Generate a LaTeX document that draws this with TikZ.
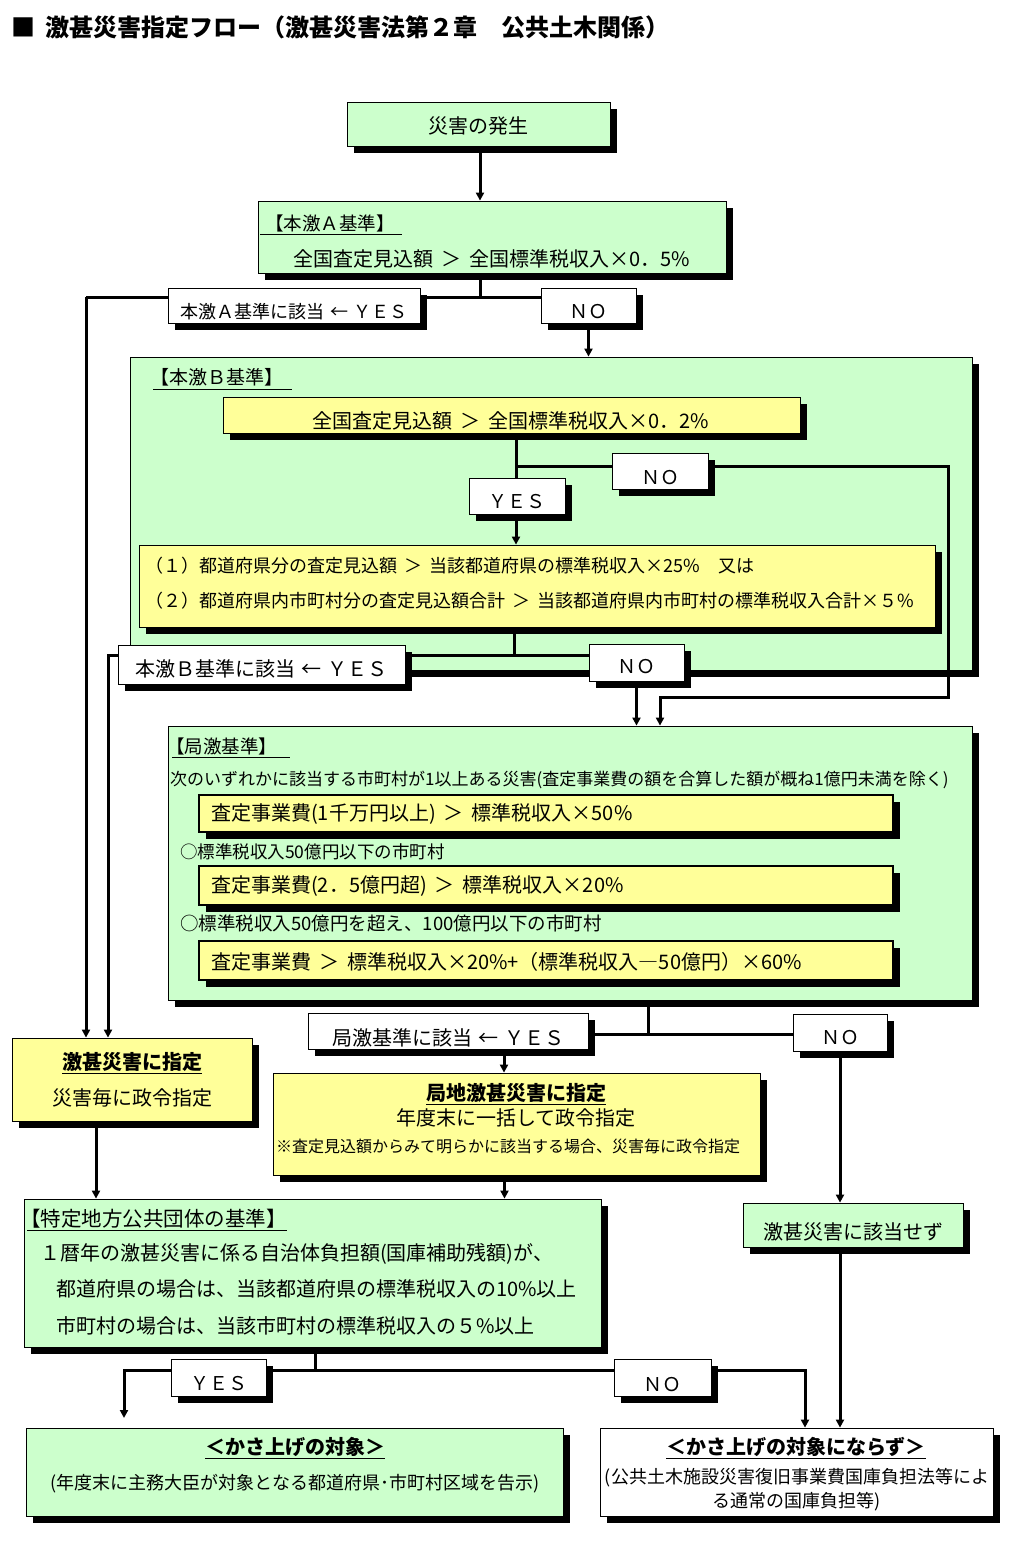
\documentclass[tikz,border=0pt]{standalone}
\usepackage{fontspec}
\setmainfont{Noto Sans CJK JP}
\usetikzlibrary{shadows,arrows.meta,fit}
\pgfdeclarelayer{bg}
\pgfdeclarelayer{ln}
\pgfsetlayers{bg,ln,main}
\definecolor{gfill}{HTML}{CCFFCC}
\definecolor{yfill}{HTML}{FFFF99}
\newcommand\fz[1]{\fontsize{#1pt}{#1pt}\selectfont}
\newcommand\gtt{\hspace{0.4em}＞\hspace{0.4em}}
\newcommand\yesarrow{\hspace{0.3em}←\hspace{0.3em}}
\tikzset{
  box/.style={draw=black, line width=0.8pt, inner sep=0pt,
     drop shadow={shadow xshift=7pt, shadow yshift=-7pt, opacity=1, fill=black}},
  gbox/.style={box, fill=gfill},
  ybox/.style={box, fill=yfill},
  wbox/.style={box, fill=white},
  txt/.style={inner sep=0pt, anchor=west},
  ctxt/.style={inner sep=0pt},
  conn/.style={line width=3pt, line join=miter},
  arr/.style={line width=3pt, line join=miter, -{Triangle[length=8pt,width=8pt]}},
  uline/.style={line width=0.8pt},
}
\begin{document}
\begin{tikzpicture}[x=1pt,y=-1pt]
\useasboundingbox (0,0) rectangle (1019,1546);
\node[txt, font=\bfseries\fz{24}] (title) at (11,27) {■\hspace{10pt}激甚災害指定フロー（激甚災害法第２章　公共土木関係）};

% container boxes
\begin{pgfonlayer}{bg}
\node[gbox, fit={(130,357) (972,670)}] (bB) {};
\node[gbox, fit={(168,726) (972,1000)}] (bC) {};
\end{pgfonlayer}

% top
\node[gbox, fit={(347,102) (610,146)}] (start) {};
\node[ctxt, font=\fz{20}] (startT) at ([yshift=-2pt]start.center) {災害の発生};
\node[gbox, fit={(258,201) (726,273)}] (bA) {};
\node[txt, font=\fz{18.5}] (labA) at (265,223) {【本激Ａ基準】};
\draw[uline] (260,234.5) -- (402,234.5);
\node[ctxt, font=\fz{20}] (txtA) at (492,259) {全国査定見込額\gtt 全国標準税収入×0．5\%};
\node[wbox, fit={(168,288) (420,323)}] (yesA) {};
\node[ctxt, font=\fz{18}] (yesAT) at ([yshift=-6pt]yesA.center) {本激Ａ基準に該当\yesarrow ＹＥＳ};
\node[wbox, fit={(541,288) (636,323)}] (noA) {};
\node[ctxt, font=\fz{19}] (noAT) at ([yshift=-6pt]noA.center) {ＮＯ};

% B
\node[txt, font=\fz{19}] (labB) at (150,377) {【本激Ｂ基準】};
\draw[uline] (153,389) -- (292,389);
\node[ybox, fit={(223,397) (800,433)}] (B1) {};
\node[ctxt, font=\fz{20}] (B1T) at (511,421) {全国査定見込額\gtt 全国標準税収入×0．2\%};
\node[wbox, fit={(469,478) (565,514)}] (yesB1) {};
\node[ctxt, font=\fz{19}] (yesB1T) at ([yshift=-6pt]yesB1.center) {ＹＥＳ};
\node[wbox, fit={(612,453) (708,489)}] (noB1) {};
\node[ctxt, font=\fz{19}] (noB1T) at ([yshift=-7pt]noB1.center) {ＮＯ};
\node[ybox, fit={(139,545) (935,627)}] (B2) {};
\node[txt, font=\fz{18}] (b2a) at (145,566) {（１）都道府県分の査定見込額\gtt 当該都道府県の標準税収入×25\%　又は};
\node[txt, font=\fz{18}] (b2b) at (145,601) {（２）都道府県内市町村分の査定見込額合計\gtt 当該都道府県内市町村の標準税収入合計×５\%};
\node[wbox, fit={(118,645) (405,684)}] (yesB2) {};
\node[ctxt, font=\fz{20}] (yesB2T) at ([yshift=-4pt]yesB2.center) {本激Ｂ基準に該当\yesarrow ＹＥＳ};
\node[wbox, fit={(589,644) (684,681)}] (noB2) {};
\node[ctxt, font=\fz{19}] (noB2T) at ([yshift=-4.5pt]noB2.center) {ＮＯ};

% C
\node[txt, font=\fz{18.5}] (labC) at (166,746) {【局激基準】};
\draw[uline] (172,757) -- (290,757);
\node[txt, font=\fz{17}] (cond) at (170,780) {次のいずれかに該当する市町村が1以上ある災害(査定事業費の額を合算した額が概ね1億円未満を除く)};
\node[ybox, line width=1.5pt, fit={(199,795) (893,832)}] (Y1) {};
\node[txt, font=\fz{20}] (y1t) at (211,814) {査定事業費(1千万円以上)\gtt 標準税収入×50\%};
\node[txt, font=\fz{17.5}] (c1) at (180,852) {○標準税収入50億円以下の市町村};
\node[ybox, line width=1.5pt, fit={(199,866) (893,905)}] (Y2) {};
\node[txt, font=\fz{20}] (y2t) at (211,886) {査定事業費(2．5億円超)\gtt 標準税収入×20\%};
\node[txt, font=\fz{18.5}] (c2) at (180,923) {○標準税収入50億円を超え、100億円以下の市町村};
\node[ybox, line width=1.5pt, fit={(199,941) (893,980)}] (Y3) {};
\node[txt, font=\fz{20}] (y3t) at (211,962) {査定事業費\gtt 標準税収入×20\%+（標準税収入―50億円）×60\%};

\node[wbox, fit={(308,1013) (588,1049)}] (yesC) {};
\node[ctxt, font=\fz{20}] (yesCT) at ([yshift=-7pt]yesC.center) {局激基準に該当\yesarrow ＹＥＳ};
\node[wbox, fit={(793,1014) (887,1051)}] (noC) {};
\node[ctxt, font=\fz{19}] (noCT) at ([yshift=-5.5pt]noC.center) {ＮＯ};

% designation boxes
\node[ybox, fit={(12,1038) (252,1121)}] (desig) {};
\node[ctxt, font=\bfseries\fz{20}] (d1) at (132,1063) {\underline{激甚災害に指定}};
\node[ctxt, font=\fz{20}] (d2) at (132,1098) {災害毎に政令指定};
\node[ybox, fit={(273,1073) (760,1175)}] (local) {};
\node[ctxt, font=\bfseries\fz{20}] (l1) at (516,1094) {\underline{局地激甚災害に指定}};
\node[ctxt, font=\fz{20}] (l2) at (516,1118) {年度末に一括して政令指定};
\node[ctxt, font=\fz{16}] (l3) at (508,1146) {※査定見込額からみて明らかに該当する場合、災害毎に政令指定};

\node[gbox, fit={(24,1199) (601,1347)}] (toku) {};
\node[txt, font=\fz{20.5}] (t0) at (20,1219) {【特定地方公共団体の基準】};
\draw[uline] (27,1230) -- (287,1230);
\node[txt, font=\fz{20}] (t1) at (40,1254) {１暦年の激甚災害に係る自治体負担額(国庫補助残額)が、};
\node[txt, font=\fz{20}] (t2) at (56,1289) {都道府県の場合は、当該都道府県の標準税収入の10\%以上};
\node[txt, font=\fz{20}] (t3) at (56,1326) {市町村の場合は、当該市町村の標準税収入の５\%以上};

\node[gbox, fit={(743,1203) (963,1247)}] (gaitou) {};
\node[ctxt, font=\fz{20}] (gaitouT) at ([yshift=-7pt]gaitou.center) {激甚災害に該当せず};

\node[wbox, fit={(171,1359) (266,1396)}] (yesD) {};
\node[ctxt, font=\fz{19}] (yesDT) at ([yshift=-6.5pt]yesD.center) {ＹＥＳ};
\node[wbox, fit={(614,1359) (711,1396)}] (noD) {};
\node[ctxt, font=\fz{19}] (noDT) at ([yshift=-6.5pt]noD.center) {ＮＯ};

\node[gbox, fit={(26,1428) (563,1516)}] (kasa) {};
\node[ctxt, font=\bfseries\fz{20}] (k1) at (295,1448) {\underline{＜かさ上げの対象＞}};
\node[ctxt, font=\fz{18}] (k2) at (295,1484) {(年度末に主務大臣が対象となる都道府県･市町村区域を告示)};
\node[wbox, fit={(600,1428) (993,1516)}] (nonkasa) {};
\node[ctxt, font=\bfseries\fz{20}] (n1) at (796,1448) {\underline{＜かさ上げの対象にならず＞}};
\node[ctxt, font=\fz{18}] (n2) at (797,1478) {(公共土木施設災害復旧事業費国庫負担法等によ};
\node[ctxt, font=\fz{18}] (n3) at (797,1502) {る通常の国庫負担等)};

% connectors
\begin{pgfonlayer}{ln}
\coordinate (jA) at (480,297);
\coordinate (cL1) at (86,297);
\coordinate (jB1) at (516,466);
\coordinate (cR1) at (948,466);
\coordinate (cR2) at (948,697);
\coordinate (cR3) at (660,697);
\coordinate (jB2) at (514,655);
\coordinate (cL2) at (108,655);
\coordinate (jC) at (648,1034);
\coordinate (pC) at (504,1049);
\coordinate (jD) at (315,1370);
\coordinate (cY) at (124,1370);
\coordinate (cY2) at (124,1418);
\coordinate (cN) at (805,1370);

\draw[arr] (start.south -| jA) -- (bA.north -| jA);
\draw[conn] (bA.south -| jA) -- (jA);
\draw[conn] (noA.west |- jA) -- (cL1);
\draw[arr] (cL1) -- (cL1 |- desig.north);
\draw[arr] (noA.south) -- (bB.north -| noA.south);

\draw[conn] (B1.south -| jB1) -- (jB1) -- (noB1.west |- jB1);
\draw[arr] (jB1) -- (B2.north -| jB1);
\draw[arr] (noB1.east |- jB1) -- (cR1) -- (cR2) -- (cR3) -- (cR3 |- bC.north);

\draw[conn] (B2.south -| jB2) -- (jB2);
\draw[conn] (yesB2.east |- jB2) -- (noB2.west |- jB2);
\draw[arr] (yesB2.west |- jB2) -- (cL2) -- (cL2 |- desig.north);
\draw[arr] (noB2.south) -- (bC.north -| noB2.south);

\draw[conn] (bC.south -| jC) -- (jC);
\draw[conn] (yesC.east |- jC) -- (noC.west |- jC);
\draw[arr] (pC) -- (pC |- local.north);
\draw[arr] (noC.south) -- (gaitou.north -| noC.south);

\draw[arr] ([xshift=-36pt]desig.south) -- ([xshift=-36pt]desig.south |- toku.north);
\draw[arr] ([xshift=-12pt]local.south) -- ([xshift=-12pt]local.south |- toku.north);

\draw[conn] (toku.south -| jD) -- (jD);
\draw[arr] (jD) -- (cY) -- (cY2);
\draw[arr] (jD) -- (cN) -- (cN |- nonkasa.north);
\draw[arr] (gaitou.south -| noC.south) -- (nonkasa.north -| noC.south);
\end{pgfonlayer}
\end{tikzpicture}
\end{document}
